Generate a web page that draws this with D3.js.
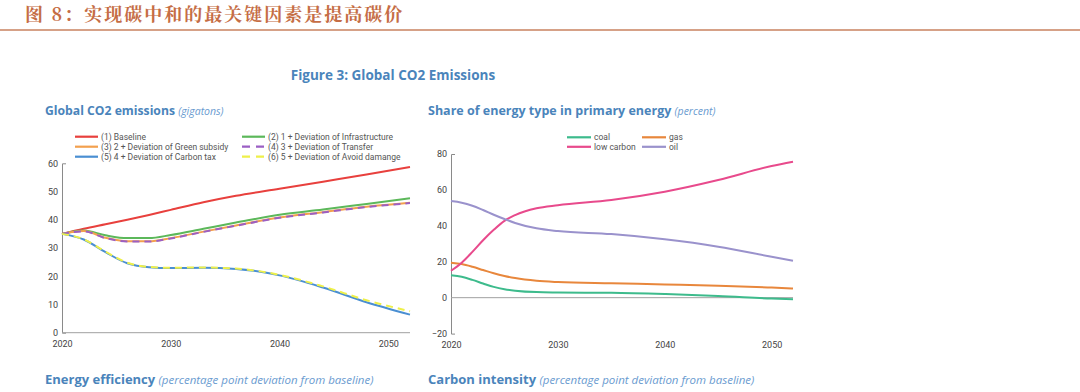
<!DOCTYPE html>
<html>
<head>
<meta charset="utf-8">
<script src="https://cdn.jsdelivr.net/npm/d3@7"></script>
<style>
  body { margin: 0; background: #fff; }
  svg { display: block; }
</style>
</head>
<body>
<svg id="chart" width="1080" height="392"></svg>
<script>
// Data
const co2Years = [2020, 2022, 2024, 2026, 2028, 2030, 2033, 2036, 2040, 2044, 2048, 2052];
const baseline = [35, 36.8, 38.4, 40, 41.7, 43.5, 46.2, 48.5, 51, 53.5, 56, 58.7];
const infra = [35, 36.2, 34.5, 33.5, 33.5, 34.6, 36.8, 39, 41.8, 43.6, 45.6, 47.6];
const greenSubsidy = [35, 36, 33.6, 32.4, 32.4, 33.5, 35.8, 38, 40.8, 42.7, 44.6, 46];
const transfer = [35, 35.9, 33.5, 32.3, 32.3, 33.4, 35.7, 37.9, 40.7, 42.6, 44.5, 45.9];
const carbonTax = [35, 33, 28.5, 24.6, 23.2, 22.9, 23, 22.6, 20.3, 16, 10.8, 6.4];
const avoidDamage = [35, 33.1, 28.7, 24.8, 23.3, 23, 23.1, 22.7, 20.5, 16.4, 11.5, 7.6];
const co2Ticks = [0, 10, 20, 30, 40, 50, 60];

const shareYears = [2020, 2021, 2022, 2023, 2024, 2025, 2026, 2028, 2030, 2035, 2040, 2045, 2050, 2052];
const coal = [12.5, 11.6, 9.9, 7.9, 6.0, 4.7, 3.9, 3.1, 2.9, 2.7, 2.0, 1.0, -0.5, -0.9];
const gas = [19.5, 18.7, 17.2, 15.4, 13.6, 12.1, 10.9, 9.4, 8.7, 8.0, 7.4, 6.7, 5.6, 5.1];
const lowCarbon = [15, 19.5, 25.5, 32, 37.8, 42.8, 46, 49.8, 51.5, 54.4, 59, 65.5, 73.3, 75.7];
const oil = [53.8, 52.9, 51.2, 48.8, 46.2, 43.8, 41.6, 38.6, 37.1, 35.4, 32.5, 28.4, 22.8, 20.6];
const shareTicks = [-20, 0, 20, 40, 60, 80];

const yearTicks = [2020, 2030, 2040, 2050];

const co2Series = [
  { name: '(1) Baseline', values: baseline, color: '#e8403d', dash: null },
  { name: '(2) 1 + Deviation of Infrastructure', values: infra, color: '#5cb85a', dash: null },
  { name: '(3) 2 + Deviation of Green subsidy', values: greenSubsidy, color: '#f3a04e', dash: null },
  { name: '(4) 3 + Deviation of Transfer', values: transfer, color: '#9b5fc4', dash: '7,5' },
  { name: '(5) 4 + Deviation of Carbon tax', values: carbonTax, color: '#4a8fd2', dash: null },
  { name: '(6) 5 + Deviation of Avoid damange', values: avoidDamage, color: '#eef04a', dash: '7,5' }
];

const shareSeries = [
  { name: 'coal', values: coal, color: '#3dbb8c' },
  { name: 'gas', values: gas, color: '#e8873c' },
  { name: 'low carbon', values: lowCarbon, color: '#e84a8c' },
  { name: 'oil', values: oil, color: '#9a92cc' }
];

const blue = '#4a84bb';
const svg = d3.select('#chart');

// Header
svg.append('text')
  .attr('x', 25).attr('y', 21)
  .attr('font-family', '"Noto Serif CJK SC", "Noto Sans CJK SC", serif')
  .attr('font-size', 18).attr('font-weight', 700)
  .attr('letter-spacing', 2)
  .attr('fill', '#c56d45')
  .text('图 8：实现碳中和的最关键因素是提高碳价');

svg.append('line')
  .attr('x1', 0).attr('x2', 1080).attr('y1', 30).attr('y2', 30)
  .attr('stroke', '#c9825f').attr('stroke-width', 1.5);

svg.append('text')
  .attr('x', 393).attr('y', 80)
  .attr('text-anchor', 'middle')
  .attr('font-family', '"Open Sans", sans-serif')
  .attr('font-size', 13.5).attr('font-weight', 700)
  .attr('fill', blue)
  .text('Figure 3: Global CO2 Emissions');

// Panel titles
function panelTitle(x, y, bold, italic, size, isize) {
  const t = svg.append('text')
    .attr('x', x).attr('y', y)
    .attr('font-family', '"Open Sans", sans-serif')
    .attr('fill', blue);
  t.append('tspan').attr('font-size', size).attr('font-weight', 700).text(bold + ' ');
  t.append('tspan').attr('font-size', isize).attr('font-style', 'italic').attr('fill', '#6a9bd0').text(italic);
}
panelTitle(45, 115, 'Global CO2 emissions', '(gigatons)', 12.2, 10.5);
panelTitle(428, 115, 'Share of energy type in primary energy', '(percent)', 12.5, 10.5);
panelTitle(45, 384, 'Energy efficiency', '(percentage point deviation from baseline)', 13, 11.5);
panelTitle(428, 384, 'Carbon intensity', '(percentage point deviation from baseline)', 13, 11.5);

// Draws one panel
function drawPanel(opts) {
  const x = d3.scaleLinear().domain([2020, 2052]).range(opts.xRange);
  const y = d3.scaleLinear().domain(opts.yDomain).range(opts.yRange);
  const g = svg.append('g');

  const yAxis = g.append('g')
    .attr('transform', `translate(${opts.xRange[0]},0)`)
    .call(d3.axisLeft(y).tickValues(opts.yTicks).tickSizeInner(0).tickSizeOuter(-4).tickPadding(4));
  yAxis.select('.domain').attr('stroke', '#8a8a8a');
  yAxis.selectAll('text')
    .attr('font-family', 'Roboto, sans-serif').attr('font-size', 9).attr('fill', '#444');

  // baseline at zero
  g.append('line')
    .attr('x1', opts.xRange[0]).attr('x2', opts.xRange[1])
    .attr('y1', y(0)).attr('y2', y(0))
    .attr('stroke', '#a0a0a0').attr('stroke-width', 1);

  g.append('g')
    .attr('transform', `translate(0,${opts.yRange[0]})`)
    .call(d3.axisBottom(x).tickValues(yearTicks).tickFormat(d3.format('d')).tickSize(0).tickPadding(opts.xPad))
    .call(a => a.select('.domain').remove())
    .selectAll('text')
    .attr('font-family', 'Roboto, sans-serif').attr('font-size', 9).attr('fill', '#444');

  const line = d3.line()
    .x((d, i) => x(opts.years[i]))
    .y(d => y(d))
    .curve(d3.curveMonotoneX);

  g.selectAll('.series')
    .data(opts.series)
    .enter()
    .append('path')
    .attr('d', d => line(d.values))
    .attr('fill', 'none')
    .attr('stroke', d => d.color)
    .attr('stroke-width', 2)
    .attr('stroke-dasharray', d => d.dash || null);

  // legend
  const leg = g.selectAll('.leg')
    .data(opts.series)
    .enter()
    .append('g')
    .attr('transform', (d, i) => `translate(${opts.legX[i % 2]},${opts.legY + Math.floor(i / 2) * opts.legStep})`);
  leg.append('line')
    .attr('x1', 0).attr('x2', opts.legLen)
    .attr('stroke', d => d.color).attr('stroke-width', 2.2)
    .attr('stroke-dasharray', d => d.dash ? '8,6' : null);
  leg.append('text')
    .attr('x', opts.legLen + 3).attr('dy', '0.33em')
    .attr('font-family', 'Roboto, sans-serif').attr('font-size', 8.5).attr('fill', '#555')
    .text(d => d.name);
}

drawPanel({
  xRange: [62, 410], yDomain: [0, 60], yRange: [332.7, 163.3], yTicks: co2Ticks,
  years: co2Years, series: co2Series, xPad: 8,
  legX: [75, 242], legY: 136.7, legStep: 10, legLen: 23
});

drawPanel({
  xRange: [451, 793], yDomain: [-20, 80], yRange: [333.6, 154], yTicks: shareTicks,
  years: shareYears, series: shareSeries, xPad: 8,
  legX: [567, 642], legY: 137.3, legStep: 9.5, legLen: 24
});
</script>
</body>
</html>
